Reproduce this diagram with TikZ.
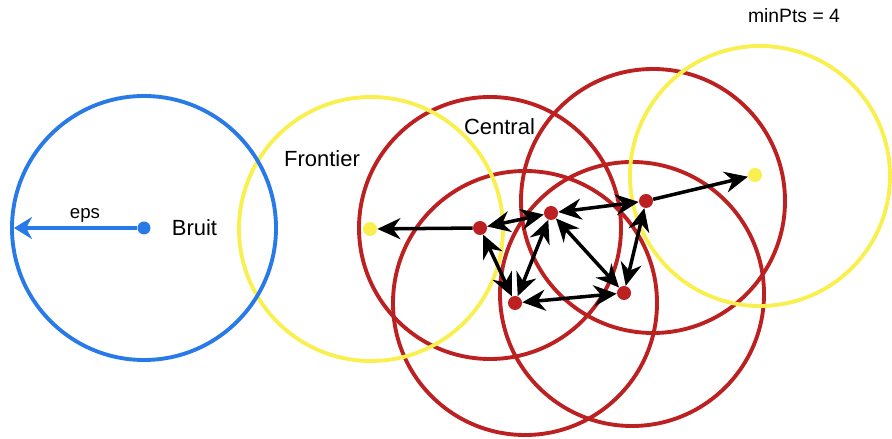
\documentclass[tikz,border=0pt]{standalone}
\usepackage{fontspec}
\setmainfont{Liberation Sans}
\usetikzlibrary{arrows.meta}

\definecolor{noiseblue}{RGB}{40,122,232}
\definecolor{borderyellow}{RGB}{249,240,80}
\definecolor{corered}{RGB}{188,32,32}

\tikzset{
  ring/.style={line width=2.2pt},
  dot/.style={circle, inner sep=0pt, minimum size=0.28cm},
  link/.style={line width=2pt, {Stealth[length=0.46cm, width=0.42cm]}-{Stealth[length=0.46cm, width=0.42cm]}},
  onelink/.style={line width=2pt, -{Stealth[length=0.46cm, width=0.42cm]}},
  word/.style={font=\fontsize{12.5}{15}\selectfont, anchor=base, inner sep=0pt}
}

\begin{document}
\begin{tikzpicture}[x=0.02cm, y=0.02cm]

	\useasboundingbox (0,0) rectangle (892,439);

	%Rings
	\draw[ring, corered] (490,211) circle (131);
	\draw[ring, corered] (653,238) circle (132);
	\draw[ring, corered] (525,136) circle (132);
	\draw[ring, corered] (632,145) circle (132);
	\draw[ring, borderyellow] (371,210) circle (132);
	\draw[ring, borderyellow] (760,263) circle (130);
	\draw[ring, noiseblue] (144,211) circle (132);

	%Nodes
	\node (noise) at (144,211) [dot, fill=noiseblue, minimum size=0.26cm]{};
	\node (border1) at (370,210) [dot, fill=borderyellow]{};
	\node (border2) at (755,264) [dot, fill=borderyellow]{};
	\node (core1) at (480,211) [dot, fill=corered]{};
	\node (core2) at (551,226) [dot, fill=corered]{};
	\node (core3) at (646,238) [dot, fill=corered]{};
	\node (core4) at (515,136) [dot, fill=corered]{};
	\node (core5) at (624,146) [dot, fill=corered]{};
	\coordinate (epsend) at (14,211);

	%Labels
	\node (eps) at (85,220) [word, font=\fontsize{10.6}{13}\selectfont]{eps};
	\node (bruit) at (194.5,203) [word]{Bruit};
	\node (frontier) at (322,272) [word]{Frontier};
	\node (central) at (499.5,304) [word]{Central};
	\node (minpts) at (794,416) [word, font=\fontsize{11}{13}\selectfont]{minPts = 4};

	%Links
	\draw[line width=2.2pt, noiseblue, -{Stealth[length=0.36cm, width=0.44cm]}] (noise) -- (epsend);
	\draw[onelink] (core1) -- (border1);
	\draw[onelink] (core3) -- (border2);
	\draw[link] (core1) -- (core2);
	\draw[link] (core2) -- (core3);
	\draw[link] (core1) -- (core4);
	\draw[link] (core2) -- (core4);
	\draw[link] (core2) -- (core5);
	\draw[link] (core4) -- (core5);
	\draw[link] (core3) -- (core5);

\end{tikzpicture}
\end{document}
